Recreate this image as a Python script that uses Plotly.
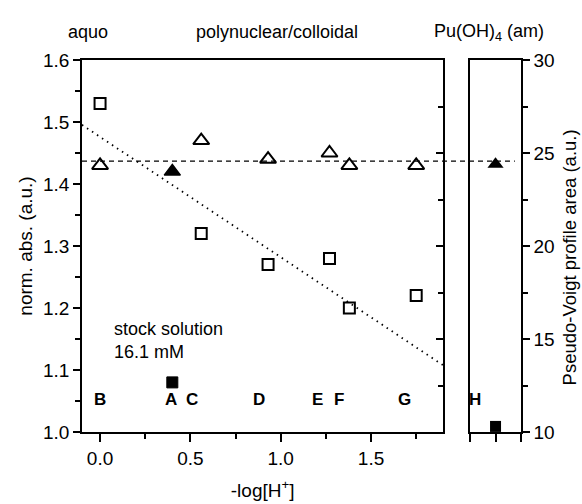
import plotly.graph_objects as go

# ---------------- data ----------------
sq_x = [0.0, 0.56, 0.93, 1.27, 1.38, 1.75]
sq_y = [1.53, 1.32, 1.27, 1.28, 1.20, 1.22]
tri_x = [0.0, 0.56, 0.93, 1.27, 1.38, 1.75]
tri_y = [1.43, 1.47, 1.44, 1.45, 1.43, 1.43]
stock_x = [0.40]
stock_sq_y = [1.08]
stock_tri_y = [1.42]
am_x = [1.0]
am_tri_y = [24.4]
am_sq_y = [10.3]
mean_level = 1.437
fit_intercept = 1.476
fit_slope = -0.194
fit_x = [-0.1, 1.9]
letters = ["B", "A", "C", "D", "E", "F", "G"]
letter_x = [0.0, 0.39, 0.51, 0.88, 1.205, 1.32, 1.685]
letter_y = 1.052
region_labels = ["aquo", "polynuclear/colloidal", "Pu(OH)<sub>4</sub> (am)"]

FONT = "Liberation Sans, Arial, sans-serif"
BLACK = "black"

fig = go.Figure()

# dotted fit line
fig.add_trace(go.Scatter(
    x=fit_x, y=[fit_intercept + fit_slope * v for v in fit_x],
    mode="lines", line=dict(color=BLACK, width=1.8, dash="1.5px,4.5px"),
    xaxis="x", yaxis="y", showlegend=False, hoverinfo="skip"))

fig.add_trace(go.Scatter(
    x=sq_x, y=sq_y, mode="markers",
    marker=dict(symbol="square-open", size=11, color=BLACK, line=dict(width=2, color=BLACK)),
    xaxis="x", yaxis="y", showlegend=False, cliponaxis=False))
fig.add_trace(go.Scatter(
    x=tri_x, y=tri_y, mode="markers",
    marker=dict(symbol="triangle-up-open", size=14, color=BLACK, line=dict(width=2, color=BLACK)),
    xaxis="x", yaxis="y", showlegend=False, cliponaxis=False))
fig.add_trace(go.Scatter(
    x=stock_x, y=stock_sq_y, mode="markers",
    marker=dict(symbol="square", size=11, color=BLACK, line=dict(width=1, color=BLACK)),
    xaxis="x", yaxis="y", showlegend=False, cliponaxis=False))
fig.add_trace(go.Scatter(
    x=stock_x, y=stock_tri_y, mode="markers",
    marker=dict(symbol="triangle-up", size=14, color=BLACK, line=dict(width=1.5, color=BLACK)),
    xaxis="x", yaxis="y", showlegend=False, cliponaxis=False))

# invisible trace to activate inward right ticks on main panel
fig.add_trace(go.Scatter(x=[None], y=[None], xaxis="x", yaxis="y3",
                         showlegend=False, hoverinfo="skip"))

# Pu(OH)4 (am) panel
fig.add_trace(go.Scatter(
    x=am_x, y=am_tri_y, mode="markers",
    marker=dict(symbol="triangle-up", size=14, color=BLACK),
    xaxis="x2", yaxis="y2", showlegend=False, cliponaxis=False))
fig.add_trace(go.Scatter(
    x=am_x, y=am_sq_y, mode="markers",
    marker=dict(symbol="square", size=11, color=BLACK),
    xaxis="x2", yaxis="y2", showlegend=False, cliponaxis=False))

axis_common = dict(showgrid=False, zeroline=False, showline=True, linecolor=BLACK,
                   linewidth=1.5, tickcolor=BLACK, tickwidth=1.5, automargin=False,
                   tickfont=dict(family=FONT, size=19, color=BLACK))

fig.update_layout(
    width=582, height=504,
    margin=dict(l=82, r=61, t=60, b=72, autoexpand=False),
    paper_bgcolor="white", plot_bgcolor="white",
    font=dict(family=FONT, color=BLACK),
    xaxis=dict(**axis_common, domain=[0, 0.823], range=[-0.1, 1.9], anchor="y",
               tickvals=[0, 0.5, 1.0, 1.5], tickformat=".1f", ticks="outside", ticklen=8,
               mirror=True,
               minor=dict(tickvals=[0.25, 0.75, 1.25, 1.75], ticks="outside", ticklen=5,
                          tickcolor=BLACK, tickwidth=1.5),
               title=dict(text="-log[H<sup>+</sup>]", font=dict(family=FONT, size=19), standoff=16)),
    yaxis=dict(**axis_common, domain=[0, 1], range=[1.0, 1.6], anchor="x",
               dtick=0.1, tickformat=".1f", ticks="outside", ticklen=7, mirror=True,
               minor=dict(dtick=0.05, ticks="outside", ticklen=5, tickcolor=BLACK, tickwidth=1.5),
               title=dict(text="norm. abs. (a.u.)", font=dict(family=FONT, size=19), standoff=5)),
    yaxis3=dict(overlaying="y", anchor="x", side="right", range=[10, 30], dtick=5,
                showgrid=False, zeroline=False, showline=False, ticks="inside", ticklen=7,
                tickcolor=BLACK, tickwidth=1.5, showticklabels=False, automargin=False,
                minor=dict(dtick=2.5, ticks="inside", ticklen=5, tickcolor=BLACK, tickwidth=1.5)),
    xaxis2=dict(**axis_common, domain=[0.884, 1], range=[0, 2], anchor="y2",
                tickvals=[0, 1, 2], ticks="outside", ticklen=8, showticklabels=False, mirror=True),
    yaxis2=dict(**axis_common, domain=[0, 1], range=[10, 30], anchor="x2", side="right",
                dtick=5, ticks="outside", ticklen=7, mirror=True,
                minor=dict(dtick=2.5, ticks="outside", ticklen=5, tickcolor=BLACK, tickwidth=1.5)),
)

# right axis title as rotated annotation
fig.add_annotation(x=1.11, y=0.47, xref="paper", yref="paper",
                   text="Pseudo-Voigt profile area (a.u.)", textangle=-90,
                   xanchor="center", yanchor="middle", showarrow=False, borderpad=0,
                   font=dict(family=FONT, size=18.5, color=BLACK))

# dashed mean line across both panels
fig.add_shape(type="line", xref="paper", yref="y", x0=0, x1=0.986, y0=mean_level, y1=mean_level,
              line=dict(color=BLACK, width=1.3, dash="5px,4px"), layer="below")

# letter labels
for t, lx in zip(letters, letter_x):
    fig.add_annotation(x=lx, y=letter_y, xref="x", yref="y", text="<b>%s</b>" % t,
                       showarrow=False, font=dict(family=FONT, size=17, color=BLACK))
fig.add_annotation(x=0, y=letter_y, xref="x2", yref="y", text="<b>H</b>", xanchor="left",
                   xshift=-3, showarrow=False, font=dict(family=FONT, size=17, color=BLACK))

fig.add_annotation(x=0.064, y=1.148, xref="x", yref="y", text="stock solution<br>16.1 mM",
                   xanchor="left", yanchor="middle", align="left", showarrow=False,
                   font=dict(family=FONT, size=18, color=BLACK))

# region labels on top
for t, px in zip(region_labels, [0.0137, 0.444, 0.927]):
    fig.add_annotation(x=px, y=1.075, xref="paper", yref="paper", text=t, showarrow=False,
                       xanchor="center", yanchor="middle",
                       font=dict(family=FONT, size=18, color=BLACK))

fig.write_html("out.html", config={"displayModeBar": False},
               post_script="document.body.style.margin='0';")
